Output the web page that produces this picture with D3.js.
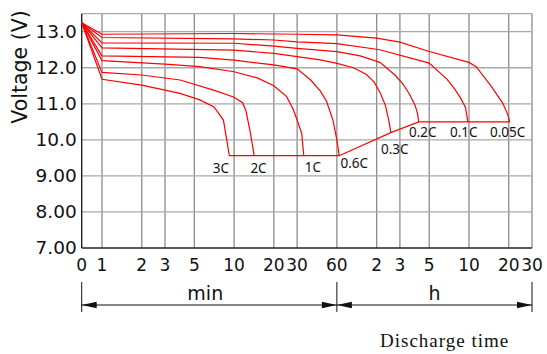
<!DOCTYPE html>
<html>
<head>
<meta charset="utf-8">
<script src="https://cdn.jsdelivr.net/npm/d3@7"></script>
<style>
  body { margin: 0; background: #fff; }
  svg { display: block; }
</style>
</head>
<body>
<svg id="chart" width="547" height="354"></svg>
<script>
// discharge time in minutes, voltage in V
const rates = ["3C", "2C", "1C", "0.6C", "0.3C", "0.2C", "0.1C", "0.05C"];

const curve3C = [[0, 13.25], [1, 11.68], [2, 11.52], [3.9, 11.29], [5.5, 11.11], [7, 10.92], [7.6, 10.75], [8.3, 10.55], [8.8, 10.0], [9.2, 9.56]];
const curve2C = [[0, 13.25], [1, 11.87], [2, 11.80], [3.9, 11.66], [7, 11.38], [9.9, 11.19], [11.6, 11.03], [12.3, 10.8], [13.2, 10.25], [14.2, 9.56]];
const curve1C = [[0, 13.25], [1, 12.20], [3, 12.10], [5.5, 12.03], [10, 11.89], [15, 11.72], [20, 11.50], [25, 11.20], [28, 10.85], [30, 10.55], [32.5, 10.18], [33.7, 9.56]];
const curve06C = [[0, 13.25], [1, 12.33], [5.5, 12.29], [10, 12.21], [20, 12.08], [30, 11.97], [38, 11.66], [45, 11.35], [50, 11.08], [56, 10.55], [60, 10.0], [62.5, 9.56]];
const curve03C = [[0, 13.25], [1, 12.55], [10, 12.49], [20, 12.40], [30, 12.31], [45, 12.22], [60, 12.12], [80, 12.0], [100, 11.82], [115, 11.6], [127, 11.32], [140, 10.95], [149, 10.5], [153.6, 10.2]];
const curve02C = [[0, 13.25], [1, 12.69], [10, 12.68], [20, 12.60], [30, 12.54], [60, 12.45], [90, 12.33], [127, 12.15], [165, 11.80], [190, 11.55], [214, 11.25], [235, 10.95], [245, 10.72], [250, 10.5]];
const curve01C = [[0, 13.25], [1, 12.84], [10, 12.80], [20, 12.77], [30, 12.72], [60, 12.67], [127, 12.5], [300, 12.13], [410, 11.68], [470, 11.40], [520, 11.15], [565, 10.9], [588, 10.5]];
const curve005C = [[0, 13.25], [1, 12.93], [10, 12.95], [30, 12.93], [60, 12.91], [120, 12.82], [180, 12.71], [300, 12.45], [600, 12.15], [680, 12.03], [880, 11.5], [1080, 11.02], [1180, 10.7], [1220, 10.5]];

const curves = [curve3C, curve2C, curve1C, curve06C, curve03C, curve02C, curve01C, curve005C];

const xTicks = [0, 1, 2, 3, 5, 10, 20, 30, 60, 120, 180, 300, 600, 1200, 1800];
const xTickLabels = ["0", "1", "2", "3", "5", "10", "20", "30", "60", "2", "3", "5", "10", "20", "30"];
const yTicks = [7, 8, 9, 10, 11, 12, 13];
const yTickLabels = ["7.00", "8.00", "9.00", "10.0", "11.0", "12.0", "13.0"];

// label placement around each curve's end point (layout only)
const labelDx = [-8.5, 4.3, 9, 15, 4, 4, -4, -2];
const labelDy = [17.6, 17.3, 16, 12.6, 21.3, 15, 15, 15];

const svg = d3.select("#chart");

const plotLeft = 81.7, plotRight = 532, plotTop = 13.7, plotBottom = 248;

// 0 -> 1 min is stretched linearly, the rest is a log scale in minutes
const xLin = d3.scaleLinear().domain([0, 1]).range([plotLeft, 102]);
const xLog = d3.scaleLog().domain([1, 1800]).range([102, plotRight]);
const x = t => t < 1 ? xLin(t) : xLog(t);

const y = d3.scaleLinear().domain([7, 13.5]).range([plotBottom, plotTop]);

// grid
const grid = svg.append("g");
grid.selectAll("line.v")
  .data(xTicks.slice(1))
  .enter().append("line")
  .attr("x1", d => x(d)).attr("x2", d => x(d))
  .attr("y1", y(13.5)).attr("y2", y(7))
  .attr("stroke", "#8c8c8c").attr("stroke-width", 1.3);

grid.selectAll("line.h")
  .data(yTicks.slice(1).concat([13.5]))
  .enter().append("line")
  .attr("x1", plotLeft).attr("x2", plotRight)
  .attr("y1", d => y(d)).attr("y2", d => y(d))
  .attr("stroke", "#a8a8a8").attr("stroke-width", 1.3);

// axes
svg.append("line")
  .attr("x1", plotLeft).attr("x2", plotLeft)
  .attr("y1", y(13.5)).attr("y2", y(7))
  .attr("stroke", "#222").attr("stroke-width", 1.4);
svg.append("line")
  .attr("x1", plotLeft).attr("x2", plotRight)
  .attr("y1", y(7)).attr("y2", y(7))
  .attr("stroke", "#222").attr("stroke-width", 1.4);

const yAxis = svg.append("g")
  .attr("transform", "translate(" + plotLeft + ",0)")
  .call(d3.axisLeft(y).tickValues(yTicks).tickFormat((d, i) => yTickLabels[i]).tickSize(0).tickPadding(5));
yAxis.select(".domain").remove();
yAxis.selectAll("text")
  .attr("font-family", "DejaVu Sans")
  .attr("font-size", 18.5)
  .attr("fill", "#111");

svg.append("g").selectAll("text")
  .data(xTicks)
  .enter().append("text")
  .attr("x", d => x(d))
  .attr("y", 270.5)
  .attr("text-anchor", "middle")
  .attr("font-family", "DejaVu Sans")
  .attr("font-size", 17)
  .attr("fill", "#111")
  .text((d, i) => xTickLabels[i]);

svg.append("text")
  .attr("transform", "translate(27," + 67 + ") rotate(-90)")
  .attr("text-anchor", "middle")
  .attr("font-family", "DejaVu Sans")
  .attr("font-size", 20.5)
  .attr("fill", "#111")
  .text("Voltage (V)");

// discharge curves
const line = d3.line().x(d => x(d[0])).y(d => y(d[1]));

svg.append("g").selectAll("path")
  .data(curves)
  .enter().append("path")
  .attr("d", line)
  .attr("fill", "none")
  .attr("stroke", "#ff0000")
  .attr("stroke-width", 1.2);

// end-voltage line joining the curve ends
const ends = curves.map(c => c[c.length - 1]);
svg.append("path")
  .attr("d", line(ends))
  .attr("fill", "none")
  .attr("stroke", "#ff0000")
  .attr("stroke-width", 1.2);

svg.append("g").selectAll("text")
  .data(ends)
  .enter().append("text")
  .attr("x", (d, i) => x(d[0]) + labelDx[i])
  .attr("y", (d, i) => y(d[1]) + labelDy[i])
  .attr("text-anchor", "middle")
  .attr("font-family", "Noto Sans")
  .attr("font-size", 13.5)
  .attr("fill", "#111")
  .text((d, i) => rates[i]);

// min / h dimension line
const dimY = 305;
const dim = svg.append("g").attr("stroke", "#111").attr("fill", "#111");
[0, 60, 1800].forEach(t => {
  dim.append("line")
    .attr("x1", x(t)).attr("x2", x(t))
    .attr("y1", 282).attr("y2", 312)
    .attr("stroke-width", 1);
});
dim.append("line")
  .attr("x1", x(0)).attr("x2", x(1800))
  .attr("y1", dimY).attr("y2", dimY)
  .attr("stroke-width", 1);

function arrow(tip, dir) {
  const len = 15, hw = 3.3;
  dim.append("path")
    .attr("stroke", "none")
    .attr("d", "M" + tip + "," + dimY + "L" + (tip + dir * len) + "," + (dimY - hw) +
      "L" + (tip + dir * len) + "," + (dimY + hw) + "Z");
}
arrow(x(0), 1);
arrow(x(60), -1);
arrow(x(60), 1);
arrow(x(1800), -1);

svg.append("text")
  .attr("x", (x(0) + x(60)) / 2 - 4)
  .attr("y", 300)
  .attr("text-anchor", "middle")
  .attr("font-family", "DejaVu Sans")
  .attr("font-size", 19)
  .attr("fill", "#111")
  .text("min");

svg.append("text")
  .attr("x", (x(60) + x(1800)) / 2)
  .attr("y", 300)
  .attr("text-anchor", "middle")
  .attr("font-family", "DejaVu Sans")
  .attr("font-size", 19)
  .attr("fill", "#111")
  .text("h");

svg.append("text")
  .attr("x", 380)
  .attr("y", 346.5)
  .attr("font-family", "Liberation Serif")
  .attr("font-size", 19)
  .attr("letter-spacing", 1)
  .attr("fill", "#111")
  .text("Discharge time");
</script>
</body>
</html>
